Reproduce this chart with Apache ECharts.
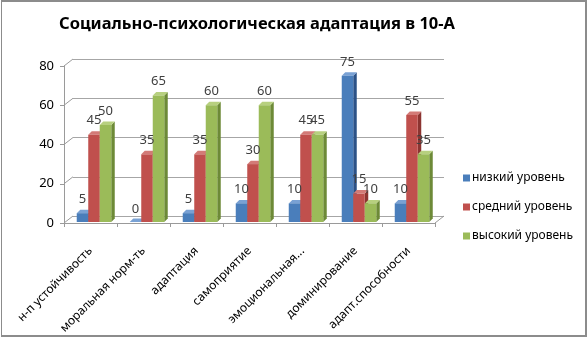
<!DOCTYPE html>
<html>
<head>
<meta charset="utf-8">
<script src="https://cdn.jsdelivr.net/npm/echarts@6/dist/echarts.min.js"></script>
<style>
  html, body { margin: 0; padding: 0; background: #fff; }
  #chart { position: absolute; left: 0; top: 0; width: 588px; height: 337px; }
  #frame { position: absolute; left: 1px; top: 0; width: 586px; height: 337px;
           box-sizing: border-box; border: 2px solid #8c8c8c; border-left-width: 1px;
           pointer-events: none; }
</style>
</head>
<body>
<div id="chart"></div>
<div id="frame"></div>
<script>
// Categories and levels
const categories = ['н-п устойчивость', 'моральная норм-ть', 'адаптация', 'самоприятие',
                    'эмоциональная...', 'доминирование', 'адапт.способности'];
const seriesNames = ['низкий уровень', 'средний уровень', 'высокий уровень'];
const lowLevel  = [5, 0, 5, 10, 10, 75, 10];
const midLevel  = [45, 35, 35, 30, 45, 15, 55];
const highLevel = [50, 65, 60, 60, 45, 10, 35];
const yTicks = [0, 20, 40, 60, 80];

const FONT = '"Noto Sans", "DejaVu Sans", sans-serif';
// front face, side face, top face
const palette = [
  ['#4a7ebb', '#2c5287', '#79a1d4'],
  ['#c0504d', '#8c3431', '#d37a77'],
  ['#9bbb59', '#6d8a37', '#b7d07f']
];
// depth of the floor / back wall
const WALL_DX = 9, WALL_DY = -7;
// depth of each bar
const BAR_DX = 3.5, BAR_DY = -3.5;

// horizontal extent of the front face of bar idx in its category
function barSpan(api, idx) {
  const cat = api.value(0);
  const catW = api.size([1, 0])[0];
  const bw = catW * 0.217;
  const c0 = api.coord([cat, 0]);
  const groupCenter = c0[0] + catW * 0.066;
  const x0 = groupCenter - 1.5 * bw + idx * bw;
  return [x0, x0 + bw, c0[1]];
}

function bar3d(idx) {
  const [front, side, top] = palette[idx];
  return function (params, api) {
    const v = api.value(1);
    const [x0, x1, y0] = barSpan(api, idx);
    const c1 = api.coord([api.value(0), v]);
    const yb = y0 - 1;
    const yt = Math.min(c1[1], yb);
    return {
      type: 'group',
      children: [
        { type: 'polygon', shape: { points: [[x1, yb], [x1 + BAR_DX, yb + BAR_DY], [x1 + BAR_DX, yt + BAR_DY], [x1, yt]] },
          style: { fill: side } },
        { type: 'polygon', shape: { points: [[x0, yt], [x0 + BAR_DX, yt + BAR_DY], [x1 + BAR_DX, yt + BAR_DY], [x1, yt]] },
          style: { fill: top } },
        { type: 'rect', shape: { x: x0, y: yt, width: bw(x0, x1), height: yb - yt },
          style: { fill: front } }
      ]
    };
  };
}
function bw(a, b) { return b - a; }

// value labels, drawn in their own layer above all bars
function valueLabel(idx) {
  return function (params, api) {
    const v = api.value(1);
    const [x0, x1] = barSpan(api, idx);
    const c1 = api.coord([api.value(0), v]);
    return { type: 'text', style: { text: String(v), x: (x0 + x1) / 2, y: c1[1] - 14,
      align: 'center', verticalAlign: 'middle', fill: '#404040', font: '13px ' + FONT } };
  };
}

// left wall diagonals at each value tick, plus right floor edge
function wallRender(params, api) {
  const v = api.value(0);
  const catW = api.size([1, 0])[0];
  const p = api.coord([0, v]);
  const left = p[0] - catW / 2;
  const children = [
    { type: 'line', shape: { x1: left, y1: p[1], x2: left + WALL_DX, y2: p[1] + WALL_DY },
      style: { stroke: '#9a9a9a', lineWidth: 1 } }
  ];
  if (v === 0) {
    const q = api.coord([categories.length - 1, 0]);
    const right = q[0] + catW / 2;
    children.push({ type: 'line', shape: { x1: right, y1: q[1], x2: right + WALL_DX, y2: q[1] + WALL_DY },
      style: { stroke: '#9a9a9a', lineWidth: 1 } });
  }
  return { type: 'group', children };
}

const levels = [lowLevel, midLevel, highLevel];
const barSeries = levels.map((arr, i) => ({
  name: seriesNames[i],
  type: 'custom',
  xAxisIndex: 0, yAxisIndex: 0,
  renderItem: bar3d(i),
  itemStyle: { color: palette[i][0] },
  encode: { x: 0, y: 1 },
  data: arr.map((v, k) => [k, v]),
  z: 5
}));
const labelSeries = levels.map((arr, i) => ({
  name: seriesNames[i],
  type: 'custom',
  xAxisIndex: 0, yAxisIndex: 0,
  renderItem: valueLabel(i),
  itemStyle: { color: palette[i][0] },
  encode: { x: 0, y: 1 },
  data: arr.map((v, k) => [k, v]),
  silent: true,
  z: 10
}));

const chart = echarts.init(document.getElementById('chart'), null, { renderer: 'canvas' });
chart.setOption({
  animation: false,
  title: {
    text: 'Социально-психологическая адаптация в 10-А',
    left: 252, top: 11, textAlign: 'center',
    textStyle: { fontFamily: FONT, fontWeight: 'bold', fontSize: 16.5, color: '#000' }
  },
  legend: {
    orient: 'vertical', left: 458, top: 167,
    itemWidth: 7, itemHeight: 7, itemGap: 17, icon: 'rect',
    data: seriesNames,
    textStyle: { fontFamily: FONT, fontSize: 12, color: '#000', padding: [0, 0, 0, -3] }
  },
  grid: [
    { left: 64, width: 371, top: 66, height: 157 },
    { left: 64 + WALL_DX, width: 371, top: 66 + WALL_DY, height: 157 }
  ],
  xAxis: [
    { type: 'category', gridIndex: 0, data: categories,
      axisLine: { lineStyle: { color: '#9a9a9a' } },
      axisTick: { show: true, length: 4, lineStyle: { color: '#9a9a9a' } },
      axisLabel: { rotate: 45, margin: 26, fontFamily: FONT, fontSize: 12, color: '#000', interval: 0 } },
    { type: 'category', gridIndex: 1, data: categories, show: false }
  ],
  yAxis: [
    { type: 'value', gridIndex: 0, min: 0, max: 80, interval: 20,
      axisLine: { show: true, lineStyle: { color: '#9a9a9a' } },
      axisTick: { show: true, length: 4, lineStyle: { color: '#9a9a9a' } },
      splitLine: { show: false },
      axisLabel: { margin: 10, fontFamily: FONT, fontSize: 13, color: '#000' } },
    { type: 'value', gridIndex: 1, min: 0, max: 80, interval: 20,
      axisLine: { show: false }, axisTick: { show: false }, axisLabel: { show: false },
      splitLine: { show: true, lineStyle: { color: '#a6a6a6', width: 1 } } }
  ],
  series: [
    { type: 'custom', name: 'walls', xAxisIndex: 0, yAxisIndex: 0, renderItem: wallRender,
      encode: { y: 0 }, data: yTicks.map(v => [v]), silent: true, z: 1 },
    ...barSeries,
    ...labelSeries
  ]
});
</script>
</body>
</html>
